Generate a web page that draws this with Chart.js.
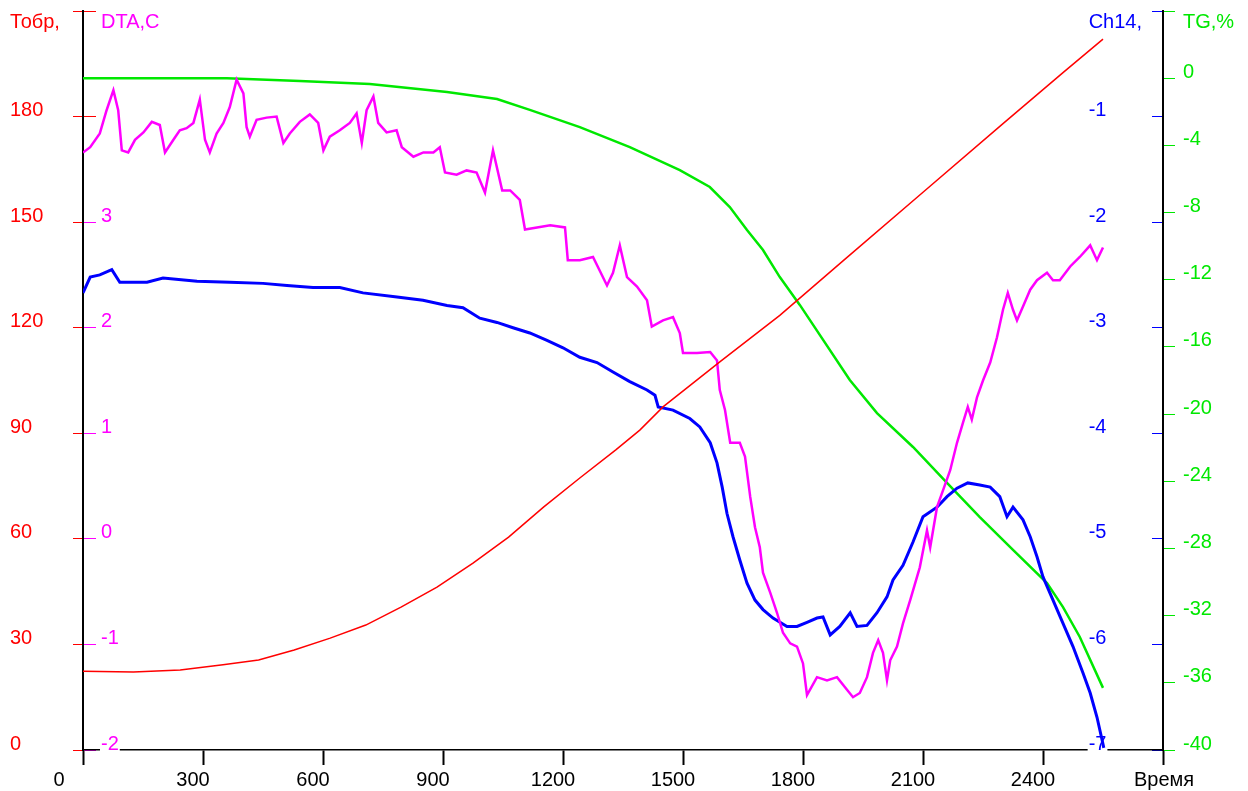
<!DOCTYPE html>
<html>
<head>
<meta charset="utf-8">
<title>DTA / TG</title>
<script src="https://cdn.jsdelivr.net/npm/chart.js@4.4.1/dist/chart.umd.min.js"></script>
<style>
  html, body { margin: 0; padding: 0; background: #fff; }
  #wrap { width: 1248px; height: 791px; }
</style>
</head>
<body>
<div id="wrap"><canvas id="chart" width="1248" height="791"></canvas></div>
<script>
// Тобр (red), s -> °C
const redTime = [0, 126, 243, 350, 439, 528, 618, 707, 795, 885, 975, 1064, 1152, 1242, 1332, 1392, 1450, 1592, 1742, 1900, 2100, 2300, 2450, 2550];
const redTemp = [22.4, 22.2, 22.7, 24.2, 25.6, 28.4, 31.8, 35.5, 40.6, 46.3, 53.1, 60.5, 69.1, 77.3, 85.3, 90.9, 97.5, 110.3, 123.5, 139, 158.5, 178, 192.5, 202];

// DTA,C (magenta)
const dtaTime = [0, 18, 42, 59, 76, 88, 97, 113, 130, 151, 172, 192, 205, 226, 242, 259, 276, 292, 305, 317, 334, 351, 367, 384, 401, 409, 417, 434, 459, 484, 501, 517, 542, 567, 588, 601, 617, 642, 667, 684, 697, 709, 726, 738, 759, 784, 797, 826, 851, 876, 892, 905, 934, 959, 984, 1005, 1025, 1048, 1068, 1092, 1105, 1135, 1168, 1205, 1212, 1242, 1275, 1310, 1325, 1342, 1360, 1385, 1410, 1422, 1450, 1475, 1492, 1500, 1535, 1568, 1585, 1592, 1605, 1618, 1642, 1655, 1668, 1680, 1692, 1700, 1718, 1735, 1750, 1768, 1785, 1800, 1810, 1835, 1860, 1885, 1910, 1925, 1942, 1960, 1975, 1988, 2000, 2010, 2018, 2035, 2050, 2068, 2092, 2110, 2118, 2135, 2150, 2168, 2185, 2200, 2212, 2222, 2235, 2250, 2268, 2285, 2300, 2312, 2325, 2335, 2350, 2368, 2385, 2410, 2425, 2442, 2468, 2492, 2518, 2535, 2550];
const dtaValue = [3.66, 3.71, 3.84, 4.06, 4.25, 4.06, 3.68, 3.66, 3.78, 3.85, 3.95, 3.92, 3.66, 3.78, 3.87, 3.89, 3.94, 4.16, 3.78, 3.66, 3.84, 3.94, 4.09, 4.35, 4.22, 3.90, 3.81, 3.97, 3.99, 4.00, 3.75, 3.84, 3.95, 4.02, 3.94, 3.68, 3.81, 3.87, 3.94, 4.03, 3.75, 4.06, 4.19, 3.94, 3.85, 3.87, 3.71, 3.62, 3.66, 3.66, 3.71, 3.47, 3.45, 3.49, 3.47, 3.28, 3.68, 3.30, 3.30, 3.21, 2.93, 2.95, 2.97, 2.95, 2.64, 2.64, 2.67, 2.40, 2.52, 2.78, 2.48, 2.39, 2.26, 2.01, 2.07, 2.10, 1.95, 1.76, 1.76, 1.77, 1.69, 1.41, 1.22, 0.91, 0.91, 0.78, 0.40, 0.11, -0.08, -0.32, -0.51, -0.70, -0.89, -0.99, -1.02, -1.18, -1.48, -1.31, -1.34, -1.31, -1.43, -1.50, -1.46, -1.31, -1.08, -0.96, -1.08, -1.34, -1.15, -1.02, -0.80, -0.58, -0.27, 0.08, -0.08, 0.30, 0.46, 0.65, 0.91, 1.10, 1.25, 1.13, 1.34, 1.50, 1.67, 1.91, 2.17, 2.33, 2.17, 2.07, 2.20, 2.36, 2.45, 2.52, 2.45, 2.45, 2.58, 2.67, 2.78, 2.64, 2.76];

// Ch14 (blue)
const ch14Time = [0, 18, 42, 72, 92, 160, 200, 285, 367, 450, 510, 575, 642, 700, 785, 850, 910, 950, 992, 1035, 1075, 1117, 1160, 1200, 1242, 1285, 1325, 1367, 1410, 1430, 1438, 1475, 1517, 1542, 1568, 1585, 1598, 1610, 1625, 1642, 1660, 1680, 1700, 1725, 1760, 1785, 1810, 1835, 1850, 1868, 1892, 1918, 1935, 1960, 1985, 2010, 2025, 2050, 2075, 2100, 2135, 2160, 2185, 2212, 2242, 2268, 2292, 2310, 2325, 2350, 2368, 2385, 2400, 2425, 2450, 2475, 2500, 2518, 2535, 2548, 2552];
const ch14Value = [-2.67, -2.52, -2.50, -2.45, -2.57, -2.57, -2.53, -2.56, -2.57, -2.58, -2.60, -2.62, -2.62, -2.67, -2.71, -2.74, -2.79, -2.81, -2.91, -2.95, -3.00, -3.05, -3.12, -3.19, -3.28, -3.33, -3.42, -3.51, -3.59, -3.64, -3.75, -3.78, -3.86, -3.94, -4.09, -4.28, -4.51, -4.76, -4.98, -5.20, -5.42, -5.58, -5.67, -5.75, -5.83, -5.83, -5.79, -5.75, -5.74, -5.91, -5.83, -5.70, -5.83, -5.82, -5.70, -5.55, -5.39, -5.25, -5.03, -4.79, -4.70, -4.60, -4.52, -4.47, -4.49, -4.51, -4.60, -4.79, -4.70, -4.82, -4.98, -5.17, -5.36, -5.58, -5.80, -6.02, -6.27, -6.46, -6.69, -6.91, -6.98];

// TG,% (green)
const tgTime = [0, 360, 542, 717, 910, 1035, 1117, 1242, 1367, 1492, 1567, 1617, 1660, 1700, 1742, 1792, 1917, 1985, 2075, 2160, 2242, 2325, 2410, 2450, 2492, 2550];
const tgValue = [0, 0, -0.17, -0.35, -0.82, -1.24, -1.89, -2.91, -4.10, -5.47, -6.48, -7.67, -9.04, -10.23, -11.84, -13.5, -17.97, -19.94, -21.96, -24.1, -26.13, -28.09, -30.06, -31.49, -33.27, -36.3];

// axis names sit on the top tick of each axis
const timeName = 'Время';
const tempName = 'Тобр,';
const dtaName = 'DTA,C';
const ch14Name = 'Ch14,';
const tgName = 'TG,%';

const RED = '#ff0000';
const MAGENTA = '#ff00ff';
const BLUE = '#0000ff';
const GREEN = '#00e800';
const FONT = { family: "'Liberation Sans', Arial, sans-serif", size: 20, lineHeight: '34px' };

const toPoints = (xs, ys) => xs.map((x, i) => ({ x, y: ys[i] }));

// fixed box width, no extra room for half labels
function fixAxis(width) {
  return (scale) => {
    scale.width = width;
    scale.paddingTop = 0;
    scale.paddingBottom = 0;
  };
}

const named = (top, name) => (v) => (v === top ? ['', name] : v);

// time labels sit a little left of their ticks, the first one more so
function timeLabel(v) {
  if (v === 2700) return '    ' + timeName;
  if (v === 0) return '0     ';
  return String(v);
}

function buildChart() {
  return new Chart(document.getElementById('chart'), {
    type: 'line',
    data: {
      datasets: [
        { label: tempName, data: toPoints(redTime, redTemp), yAxisID: 'yT', borderColor: RED, borderWidth: 1.5 },
        { label: dtaName, data: toPoints(dtaTime, dtaValue), yAxisID: 'yD', borderColor: MAGENTA, borderWidth: 2.5 },
        { label: ch14Name, data: toPoints(ch14Time, ch14Value), yAxisID: 'yC', borderColor: BLUE, borderWidth: 3 },
        { label: tgName, data: toPoints(tgTime, tgValue), yAxisID: 'yG', borderColor: GREEN, borderWidth: 2.5 }
      ]
    },
    options: {
      responsive: false,
      animation: false,
      elements: { point: { radius: 0 }, line: { tension: 0 } },
      layout: { padding: { left: 10, top: 11, right: 0, bottom: 0 } },
      plugins: { legend: { display: false }, tooltip: { enabled: false } },
      scales: {
        x: {
          type: 'linear',
          position: 'bottom',
          min: 0,
          max: 2700,
          border: { color: '#000', width: 1.5 },
          grid: { drawOnChartArea: false, tickLength: 15, color: '#000', tickWidth: 2 },
          ticks: {
            stepSize: 300,
            autoSkip: false,
            maxRotation: 0,
            padding: -2,
            labelOffset: -10,
            color: '#000',
            font: FONT,
            callback: timeLabel
          },
          afterFit: (scale) => { scale.height = 41; }
        },
        yT: {
          position: 'left',
          weight: 2,
          min: 0,
          max: 210,
          border: { color: '#000', width: 2 },
          grid: { drawOnChartArea: false, tickLength: 10, color: RED, tickWidth: 1 },
          ticks: { stepSize: 30, autoSkip: false, crossAlign: 'far', labelOffset: -6, color: RED, font: FONT, callback: named(210, tempName) },
          afterFit: fixAxis(73)
        },
        yD: {
          position: 'left',
          weight: 1,
          min: -2,
          max: 5,
          border: { display: false },
          grid: {
            drawOnChartArea: false,
            tickLength: -13,
            tickWidth: 1,
            color: (ctx) => (ctx.tick && ctx.tick.value >= 4 ? RED : MAGENTA)
          },
          ticks: {
            stepSize: 1,
            autoSkip: false,
            mirror: true,
            padding: 18,
            labelOffset: -6,
            color: MAGENTA,
            font: FONT,
            showLabelBackdrop: true,
            backdropColor: '#fff',
            backdropPadding: 1,
            callback: (v) => (v === 5 ? ['', dtaName] : v === 4 ? '' : v)
          },
          afterFit: fixAxis(0)
        },
        yC: {
          position: 'right',
          weight: 1,
          min: -7,
          max: 0,
          border: { display: false },
          grid: { drawOnChartArea: false, tickLength: -11, color: BLUE, tickWidth: 1 },
          ticks: {
            stepSize: 1,
            autoSkip: false,
            mirror: true,
            crossAlign: 'far',
            padding: -21,
            labelOffset: -6,
            color: BLUE,
            font: FONT,
            showLabelBackdrop: true,
            backdropColor: '#fff',
            backdropPadding: 1,
            callback: named(0, ch14Name)
          },
          afterFit: fixAxis(0)
        },
        yG: {
          position: 'right',
          weight: 2,
          min: -40,
          max: 4,
          border: { color: '#000', width: 2 },
          grid: { drawOnChartArea: false, tickLength: 12, color: GREEN, tickWidth: 1 },
          ticks: { stepSize: 4, autoSkip: false, padding: 8, labelOffset: -6, color: GREEN, font: FONT, callback: named(4, tgName) },
          afterFit: fixAxis(85)
        }
      }
    }
  });
}

buildChart();
</script>
</body>
</html>
